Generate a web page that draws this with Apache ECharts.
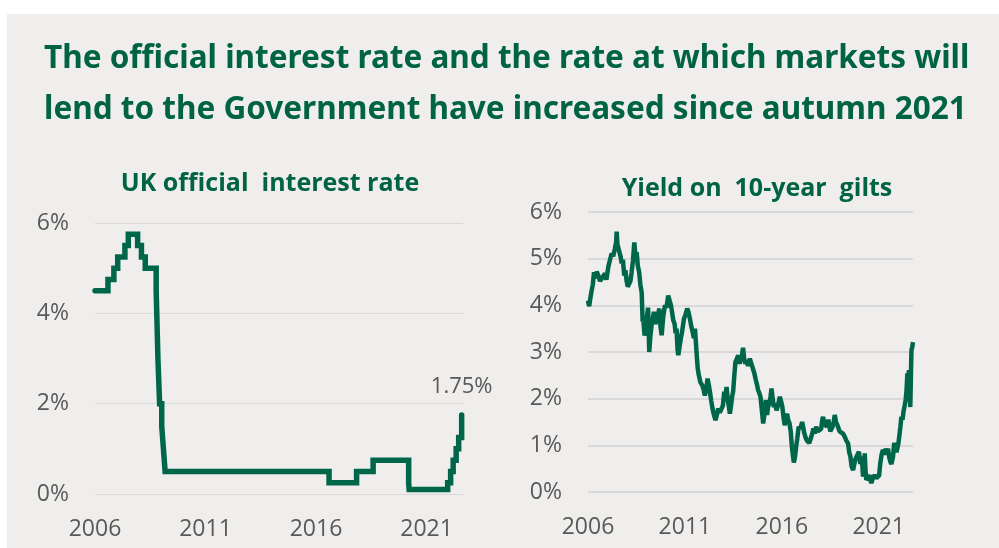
<!DOCTYPE html>
<html>
<head>
<meta charset="utf-8">
<script src="https://cdn.jsdelivr.net/npm/echarts@6/dist/echarts.min.js"></script>
<style>
  html, body { margin: 0; padding: 0; background: #ffffff; }
  #chart { width: 999px; height: 548px; }
</style>
</head>
<body>
<div id="chart"></div>
<script>
// Bank Rate changes (date of change, new rate %)
const rateDates = [
  "2006-01-01", "2006-08-03", "2006-11-09", "2007-01-11", "2007-05-10", "2007-07-05",
  "2007-12-06", "2008-02-07", "2008-04-10", "2008-10-08", "2008-11-06", "2008-12-04",
  "2009-01-08", "2009-02-05", "2009-03-05", "2016-08-04", "2017-11-02", "2018-08-02",
  "2020-03-11", "2020-03-19", "2021-12-16", "2022-02-03", "2022-03-17", "2022-05-05",
  "2022-06-16", "2022-08-04", "2022-08-12"
];
const rateValues = [
  4.5, 4.75, 5.0, 5.25, 5.5, 5.75,
  5.5, 5.25, 5.0, 4.5, 3.0, 2.0,
  1.5, 1.0, 0.5, 0.25, 0.5, 0.75,
  0.25, 0.1, 0.25, 0.5, 0.75, 1.0,
  1.25, 1.75, 1.75
];

// 10-year gilt yield (decimal year, %)
const giltYears = [
  2006.00, 2006.06, 2006.12, 2006.19, 2006.25, 2006.31, 2006.38, 2006.45, 2006.53, 2006.62,
  2006.70, 2006.78, 2006.88, 2006.95, 2007.05, 2007.12, 2007.22, 2007.30, 2007.39, 2007.45,
  2007.48, 2007.52, 2007.61, 2007.68, 2007.74, 2007.80, 2007.87, 2007.93, 2007.99, 2008.05,
  2008.13, 2008.19, 2008.25, 2008.32, 2008.39, 2008.45, 2008.51, 2008.57, 2008.64, 2008.70,
  2008.77, 2008.82, 2008.85, 2008.92, 2008.99, 2009.04, 2009.10, 2009.16, 2009.22, 2009.28,
  2009.34, 2009.40, 2009.47, 2009.54, 2009.61, 2009.68, 2009.74, 2009.80, 2009.88, 2009.97,
  2010.05, 2010.14, 2010.21, 2010.28, 2010.34, 2010.40, 2010.47, 2010.52, 2010.57, 2010.62,
  2010.66, 2010.72, 2010.79, 2010.86, 2010.95, 2011.03, 2011.12, 2011.19, 2011.26, 2011.33,
  2011.40, 2011.46, 2011.52, 2011.56, 2011.60, 2011.66, 2011.72, 2011.80, 2011.89, 2011.96,
  2012.03, 2012.10, 2012.17, 2012.23, 2012.29, 2012.36, 2012.42, 2012.46, 2012.52, 2012.58,
  2012.65, 2012.72, 2012.80, 2012.89, 2012.96, 2013.03, 2013.09, 2013.15, 2013.22, 2013.28,
  2013.32, 2013.38, 2013.44, 2013.49, 2013.55, 2013.61, 2013.68, 2013.75, 2013.82, 2013.89,
  2013.95, 2014.00, 2014.06, 2014.12, 2014.18, 2014.26, 2014.35, 2014.43, 2014.52, 2014.58,
  2014.66, 2014.72, 2014.78, 2014.84, 2014.90, 2014.96, 2015.04, 2015.10, 2015.18, 2015.24,
  2015.29, 2015.36, 2015.42, 2015.47, 2015.53, 2015.59, 2015.66, 2015.73, 2015.80, 2015.90,
  2015.96, 2016.03, 2016.09, 2016.15, 2016.21, 2016.27, 2016.33, 2016.40, 2016.46, 2016.52,
  2016.57, 2016.62, 2016.68, 2016.74, 2016.80, 2016.87, 2016.95, 2017.05, 2017.10, 2017.16,
  2017.24, 2017.30, 2017.34, 2017.42, 2017.51, 2017.57, 2017.63, 2017.70, 2017.77, 2017.85,
  2017.94, 2018.03, 2018.09, 2018.13, 2018.20, 2018.27, 2018.33, 2018.40, 2018.44, 2018.50,
  2018.56, 2018.62, 2018.68, 2018.73, 2018.80, 2018.90, 2018.98, 2019.07, 2019.16, 2019.25,
  2019.33, 2019.42, 2019.48, 2019.54, 2019.60, 2019.68, 2019.74, 2019.81, 2019.88, 2019.98,
  2020.05, 2020.11, 2020.16, 2020.19, 2020.24, 2020.28, 2020.32, 2020.36, 2020.44, 2020.53,
  2020.58, 2020.62, 2020.70, 2020.79, 2020.88, 2020.96, 2021.02, 2021.08, 2021.15, 2021.22,
  2021.30, 2021.36, 2021.43, 2021.48, 2021.54, 2021.60, 2021.66, 2021.74, 2021.80, 2021.86,
  2021.92, 2021.96, 2022.02, 2022.08, 2022.12, 2022.17, 2022.23, 2022.29, 2022.34, 2022.39,
  2022.44, 2022.48, 2022.52, 2022.56, 2022.60, 2022.63, 2022.66, 2022.69, 2022.73, 2022.77
];
const giltValues = [
  4.10, 3.98, 4.15, 4.32, 4.45, 4.71, 4.58, 4.72, 4.64, 4.52,
  4.50, 4.62, 4.68, 4.55, 4.83, 4.95, 5.11, 5.05, 5.22, 5.35,
  5.58, 5.30, 5.28, 5.05, 4.90, 4.98, 4.64, 4.75, 4.53, 4.40,
  4.36, 4.52, 4.71, 4.95, 5.35, 5.05, 5.14, 4.85, 4.71, 4.45,
  4.28, 3.65, 3.72, 3.35, 3.50, 3.75, 3.95, 3.00, 3.35, 3.57,
  3.70, 3.86, 3.60, 3.57, 3.80, 3.93, 3.55, 3.36, 3.75, 4.00,
  3.95, 4.21, 4.10, 4.00, 3.85, 3.68, 3.60, 3.40, 3.50, 3.05,
  2.93, 3.10, 3.29, 3.45, 3.71, 3.80, 3.93, 3.85, 3.71, 3.55,
  3.43, 3.30, 3.50, 3.25, 3.00, 2.65, 2.50, 2.35, 2.29, 2.20,
  2.07, 2.20, 2.43, 2.30, 2.15, 1.95, 1.80, 1.72, 1.62, 1.54,
  1.65, 1.79, 1.70, 1.72, 1.85, 2.15, 2.05, 2.25, 1.95, 1.80,
  1.68, 1.85, 2.05, 2.15, 2.50, 2.79, 2.85, 2.93, 2.75, 2.79,
  2.95, 3.09, 2.85, 2.75, 2.82, 2.70, 2.86, 2.75, 2.72, 2.55,
  2.40, 2.30, 2.18, 2.12, 2.04, 1.80, 1.47, 1.65, 1.97, 1.65,
  1.82, 1.90, 2.05, 2.22, 2.00, 1.82, 1.90, 1.75, 1.85, 2.04,
  1.95, 1.82, 1.60, 1.43, 1.55, 1.68, 1.55, 1.47, 1.30, 0.97,
  0.80, 0.63, 0.75, 0.97, 1.15, 1.40, 1.35, 1.50, 1.40, 1.26,
  1.15, 1.10, 1.08, 1.05, 1.04, 1.25, 1.36, 1.25, 1.40, 1.30,
  1.26, 1.35, 1.55, 1.61, 1.45, 1.47, 1.40, 1.55, 1.58, 1.30,
  1.33, 1.40, 1.50, 1.65, 1.50, 1.40, 1.30, 1.33, 1.25, 1.18,
  1.10, 1.04, 0.85, 0.76, 0.55, 0.47, 0.60, 0.72, 0.70, 0.86,
  0.60, 0.76, 0.55, 0.33, 0.45, 0.83, 0.45, 0.26, 0.30, 0.36,
  0.25, 0.19, 0.30, 0.36, 0.30, 0.26, 0.35, 0.61, 0.80, 0.90,
  0.80, 0.93, 0.80, 0.93, 0.75, 0.65, 0.60, 0.76, 1.05, 0.97,
  0.85, 0.83, 1.05, 1.26, 1.40, 1.61, 1.55, 1.75, 1.85, 1.97,
  2.20, 2.54, 2.35, 2.61, 2.20, 1.82, 2.45, 3.04, 3.10, 3.21
];

const yearTicks = [2006, 2011, 2016, 2021];

const GREEN = "#00664a";
const TITLE_GREEN = "#006341";
const LABEL_GREY = "#595959";
const BG = "#efeeec";

// "YYYY-MM-DD" -> decimal year
function dateToYear(s) {
  const [y, m, d] = s.split("-").map(Number);
  const start = Date.UTC(y, 0, 1);
  const end = Date.UTC(y + 1, 0, 1);
  return y + (Date.UTC(y, m - 1, d) - start) / (end - start);
}

const rateData = rateDates.map((d, i) => [dateToYear(d), rateValues[i]]);
const giltData = giltYears.map((t, i) => [t, giltValues[i]]);
const lastRate = rateData[rateData.length - 2];

const axisFont = { fontFamily: "Open Sans", fontSize: 23, color: LABEL_GREY };

function xAxisFor(gridIndex, max) {
  return {
    type: "value",
    gridIndex,
    min: 2006,
    max,
    axisLine: { show: false },
    axisTick: { show: false },
    splitLine: { show: false },
    axisLabel: {
      ...axisFont,
      margin: 24,
      customValues: yearTicks,
      formatter: (v) => String(v),
    },
  };
}

function yAxisFor(gridIndex, interval, lineWidth) {
  return {
    type: "value",
    gridIndex,
    min: 0,
    max: 6,
    interval,
    axisLine: { show: false },
    axisTick: { show: false },
    axisLabel: { ...axisFont, margin: 26, formatter: "{value}%" },
    splitLine: { lineStyle: { color: "#d9d9d9", width: lineWidth } },
  };
}

const chart = echarts.init(document.getElementById("chart"));

chart.setOption({
  animation: false,
  backgroundColor: "#ffffff",
  graphic: [
    {
      type: "rect",
      shape: { x: 7, y: 14, width: 992, height: 534 },
      style: { fill: BG },
      z: -10,
    },
  ],
  title: [
    {
      text: "The official interest rate and the rate at which markets will\nlend to the Government have increased since autumn 2021",
      left: 39,
      top: 29,
      textStyle: {
        fontFamily: "Noto Sans",
        fontWeight: "bold",
        fontSize: 31.5,
        lineHeight: 51,
        color: TITLE_GREEN,
      },
    },
    {
      text: "UK official  interest rate",
      left: 265,
      top: 166,
      textAlign: "center",
      textStyle: { fontFamily: "Open Sans", fontWeight: "bold", fontSize: 25, color: TITLE_GREEN },
    },
    {
      text: "Yield on  10-year  gilts",
      left: 752,
      top: 171,
      textAlign: "center",
      textStyle: { fontFamily: "Open Sans", fontWeight: "bold", fontSize: 25, color: TITLE_GREEN },
    },
  ],
  grid: [
    { left: 95, right: 536, top: 223, bottom: 54 },
    { left: 588, right: 86, top: 212, bottom: 56 },
  ],
  xAxis: [
    xAxisFor(0, 2022.65),
    xAxisFor(1, 2022.77),
  ],
  yAxis: [
    yAxisFor(0, 2, 1),
    yAxisFor(1, 1, 2),
  ],
  series: [
    {
      name: "UK official interest rate",
      type: "line",
      xAxisIndex: 0,
      yAxisIndex: 0,
      step: "end",
      symbol: "none",
      data: rateData,
      lineStyle: { color: GREEN, width: 5.5, join: "miter", cap: "round" },
      markPoint: {
        symbol: "circle",
        symbolSize: 0,
        data: [
          {
            coord: lastRate,
            label: {
              show: true,
              position: "top",
              distance: 17,
              formatter: lastRate[1] + "%",
              ...axisFont,
              fontSize: 22,
            },
          },
        ],
      },
    },
    {
      name: "Yield on 10-year gilts",
      type: "line",
      xAxisIndex: 1,
      yAxisIndex: 1,
      symbol: "none",
      data: giltData,
      lineStyle: { color: GREEN, width: 4.5 },
    },
  ],
});
</script>
</body>
</html>
